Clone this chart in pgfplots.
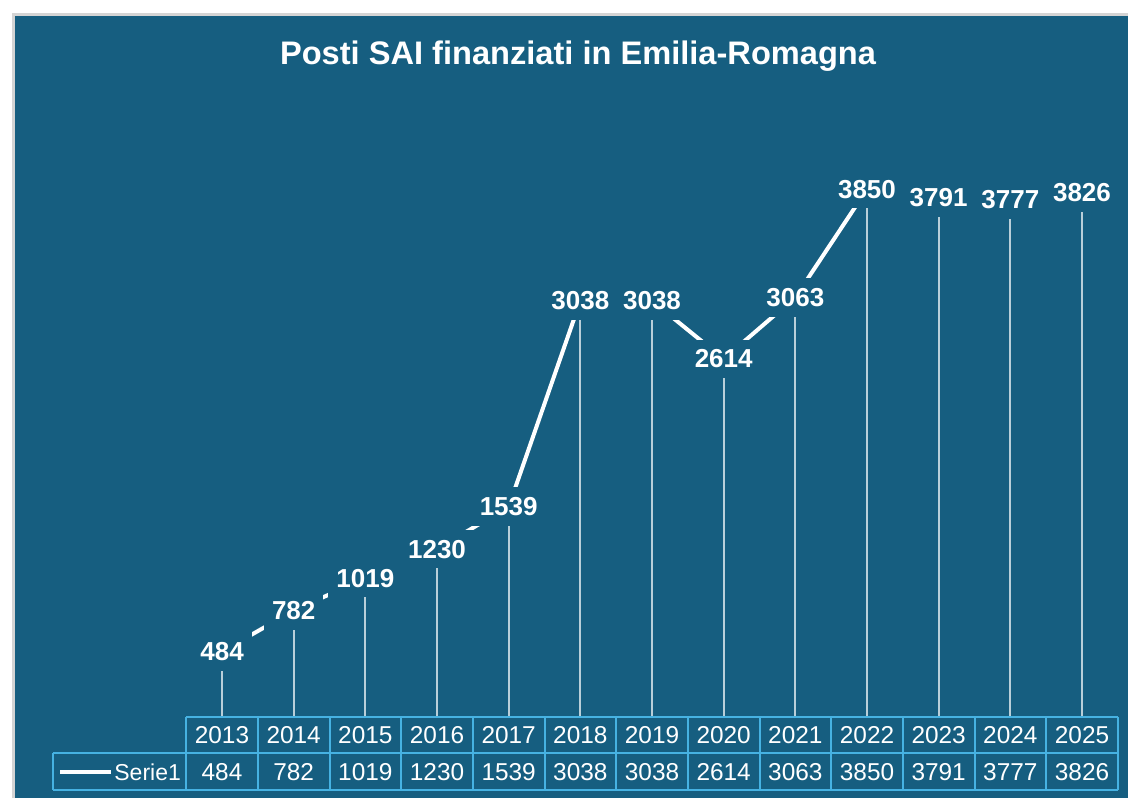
\documentclass[border=0pt]{standalone}
\usepackage{pgfplots}
\usepackage{pgfplotstable}
\pgfplotsset{compat=1.18}
\usepackage{fontspec}
\setmainfont{Liberation Sans}
\definecolor{bg}{RGB}{22,94,128}
\definecolor{gridc}{RGB}{70,178,226}
\definecolor{framec}{RGB}{212,212,212}

\pgfplotstableread{
year val
2013 484
2014 782
2015 1019
2016 1230
2017 1539
2018 3038
2019 3038
2020 2614
2021 3063
2022 3850
2023 3791
2024 3777
2025 3826
}\datatable

\begin{document}
\begin{tikzpicture}
\begin{scope}[x=0.5pt,y=0.5pt]
\useasboundingbox (0,0) rectangle (1128,798);
\fill[white] (0,0) rectangle (1128,798);
\fill[framec] (12,0) rectangle (1128,785);
\fill[bg] (15,0) rectangle (1128,782);
\node[white, font=\bfseries\fontsize{16.3}{18}\selectfont] at (578,742) {Posti SAI finanziati in Emilia-Romagna};
\end{scope}

\begin{axis}[at={(93.1pt,40pt)}, anchor=south west, scale only axis,
  width=465.8pt, height=309pt,
  xmin=2012.5, xmax=2025.5, ymin=0, ymax=4500,
  axis lines=none, clip=false]
\addplot[ycomb, draw=white, draw opacity=0.7, line width=1pt, no marks]
  table[x=year, y=val]{\datatable};
\addplot[white, line width=2pt, no marks, line cap=round,
  point meta=explicit symbolic,
  nodes near coords,
  nodes near coords style={anchor=center, fill=bg, text=white,
    font=\bfseries\fontsize{13}{14}\selectfont, inner xsep=4pt, inner ysep=5pt}]
  table[x=year, y=val, meta=val]{\datatable};
\end{axis}

\begin{scope}[x=0.5pt,y=0.5pt]
% data table
\draw[gridc, line width=1pt] (186.2,81) -- (1117.8,81);
\draw[gridc, line width=1pt] (53,45) -- (1117.8,45);
\draw[gridc, line width=1pt] (53,8) -- (1117.8,8);
\draw[gridc, line width=1pt] (53,45) -- (53,8);
\foreach \k in {0,...,13}{
  \draw[gridc, line width=1pt] ({186.2+\k*71.667},81) -- ({186.2+\k*71.667},8);
}
\foreach \i in {0,...,12}{
  \pgfplotstablegetelem{\i}{year}\of\datatable
  \node[white, font=\fontsize{12.2}{14}\selectfont] at ({222+\i*71.667},63) {\pgfplotsretval};
  \pgfplotstablegetelem{\i}{val}\of\datatable
  \node[white, font=\fontsize{12.2}{14}\selectfont] at ({222+\i*71.667},26) {\pgfplotsretval};
}
\draw[white, line width=2pt] (60,26) -- (111,26);
\node[white, anchor=west, inner sep=1pt, font=\fontsize{11.5}{14}\selectfont] at (112,26) {Serie1};
\end{scope}
\end{tikzpicture}
\end{document}
